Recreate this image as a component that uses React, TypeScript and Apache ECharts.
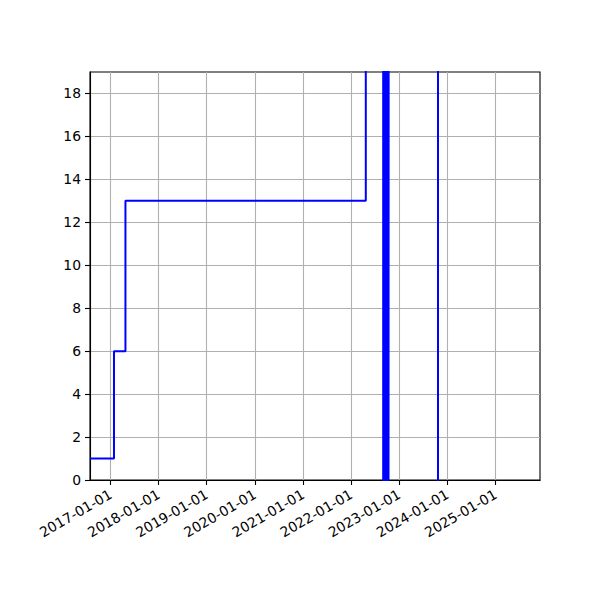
import React, { useEffect, useRef } from "react";
import * as echarts from "echarts";

const stepDates: string[] = [
  "2016-07-29", "2017-01-27", "2017-04-24", "2022-04-22",
  "2022-09-01", "2022-09-05", "2022-09-09", "2022-09-13", "2022-09-17", "2022-09-21",
  "2022-09-25", "2022-09-29", "2022-10-03", "2022-10-07", "2022-10-11", "2022-10-13",
  "2023-10-22", "2025-12-04",
];
const stepValues: number[] = [
  1, 6, 13, 30,
  -5, 30, -5, 30, -5, 30,
  -5, 30, -5, 30, -5, 30,
  -5, -5,
];
const xTickDates: string[] = [
  "2017-01-01", "2018-01-01", "2019-01-01", "2020-01-01", "2021-01-01",
  "2022-01-01", "2023-01-01", "2024-01-01", "2025-01-01",
];
const yTicks: number[] = [0, 2, 4, 6, 8, 10, 12, 14, 16, 18];
const xMinDate = "2016-07-29";
const xMaxDate = "2025-12-04";
const yMin = 0;
const yMax = 19;

const ts = (d: string) => {
  const [y, m, dd] = d.split("-").map(Number);
  return Date.UTC(y, m - 1, dd);
};
const fmt = (v: number) => {
  const d = new Date(v);
  const p = (n: number) => String(n).padStart(2, "0");
  return `${d.getUTCFullYear()}-${p(d.getUTCMonth() + 1)}-${p(d.getUTCDate())}`;
};

export default function App() {
  const ref = useRef<HTMLDivElement>(null);
  useEffect(() => {
    document.body.style.margin = "0";
    const chart = echarts.init(ref.current!, null, { renderer: "svg" });
    const font = "DejaVu Sans";
    const xTicks = xTickDates.map(ts);
    chart.setOption({
      animation: false,
      backgroundColor: "#ffffff",
      grid: {
        left: 90, right: 60, top: 72, bottom: 120,
        show: true, borderColor: "#000000", borderWidth: 1.1,
        backgroundColor: "transparent",
      },
      xAxis: {
        type: "value",
        min: ts(xMinDate),
        max: ts(xMaxDate),
        axisLine: { show: true, lineStyle: { color: "#000", width: 1.1 } },
        axisTick: { show: true, length: 5, lineStyle: { color: "#000", width: 1.1 }, customValues: xTicks },
        axisLabel: {
          customValues: xTicks,
          formatter: (v: number) => fmt(v),
          rotate: 30,
          color: "#000",
          fontFamily: font,
          fontSize: 13.9,
          margin: 13,
        },
        splitLine: { show: true, lineStyle: { color: "#b0b0b0", width: 1.1 } },
      },
      yAxis: {
        type: "value",
        min: yMin,
        max: yMax,
        axisLine: { show: true, lineStyle: { color: "#000", width: 1.1 } },
        axisTick: { show: true, length: 5, lineStyle: { color: "#000", width: 1.1 }, customValues: yTicks },
        axisLabel: {
          customValues: yTicks,
          color: "#000",
          fontFamily: font,
          fontSize: 13.9,
          margin: 9,
        },
        splitLine: { show: true, lineStyle: { color: "#b0b0b0", width: 1.1 } },
      },
      series: [
        {
          type: "line",
          step: "end",
          showSymbol: false,
          clip: true,
          data: stepDates.map((d, i) => [ts(d), stepValues[i]]),
          lineStyle: { color: "#0000ff", width: 2 },
          itemStyle: { color: "#0000ff" },
          z: 3,
        },
      ],
    });
    return () => chart.dispose();
  }, []);
  return <div ref={ref} style={{ width: 600, height: 600 }} />;
}
